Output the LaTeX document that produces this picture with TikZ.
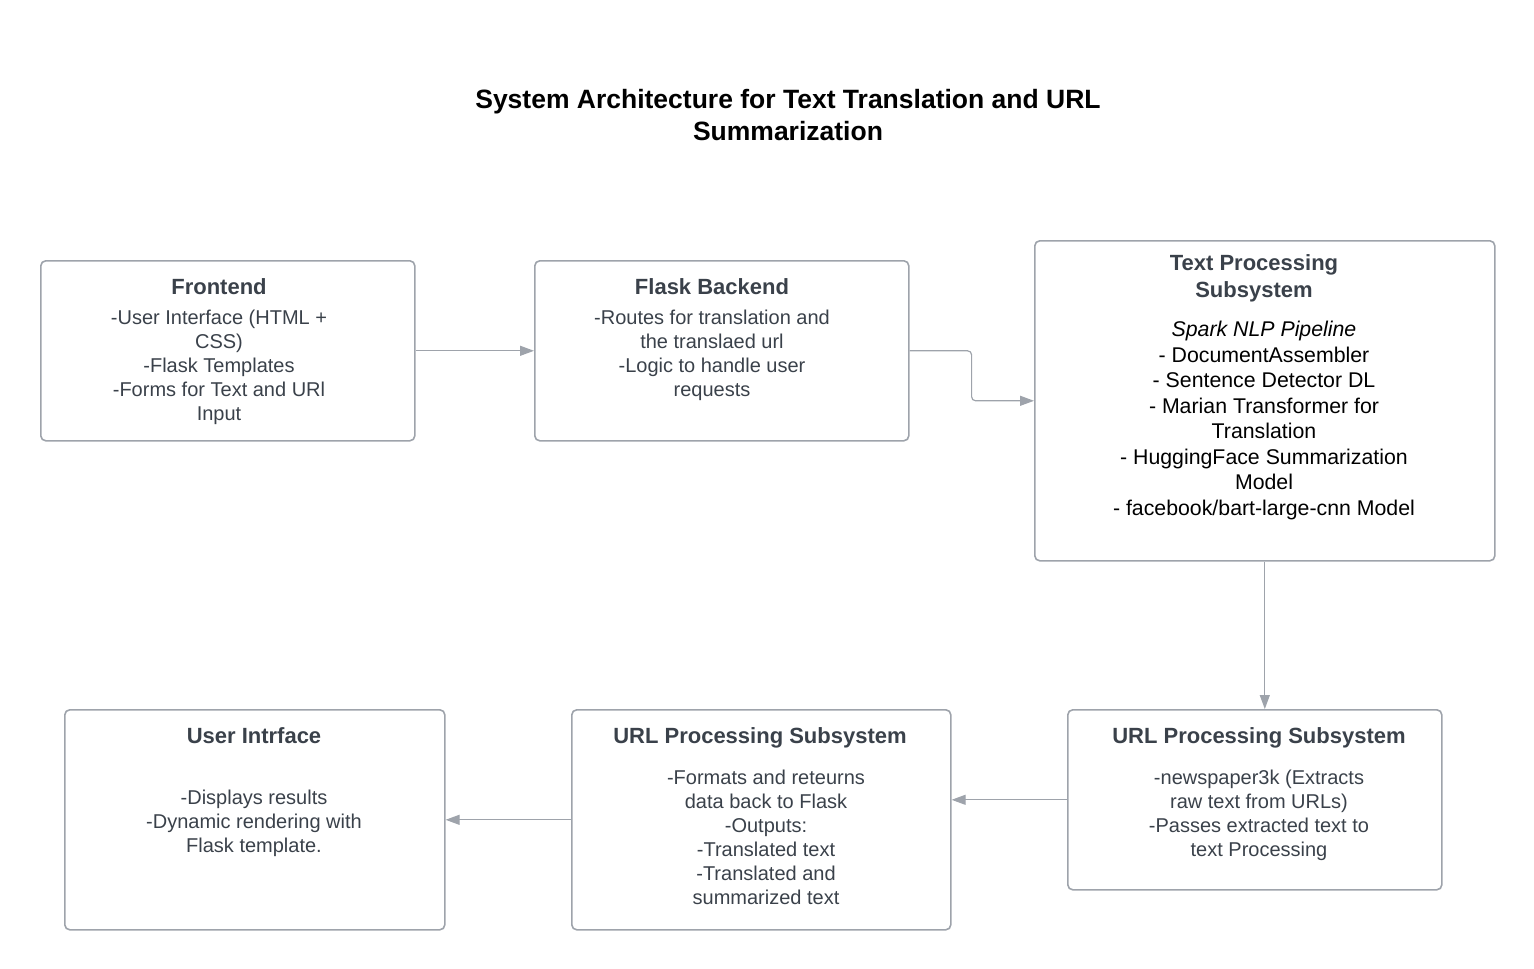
\documentclass[tikz,border=0pt]{standalone}
\usepackage{fontspec}
\setmainfont{Liberation Sans}
\usetikzlibrary{arrows.meta}
\definecolor{linegray}{HTML}{9EA3AB}
\definecolor{labelgray}{HTML}{3A414A}

\begin{document}
\begin{tikzpicture}[x=1pt,y=-1pt,every node/.style={inner sep=0pt},
    block/.style={draw=linegray,line width=1.6pt,rounded corners=5pt,anchor=north west},
    heading/.style={font=\fontsize{22}{27}\selectfont\bfseries,text=labelgray,align=center,anchor=north},
    body/.style={font=\fontsize{20}{24}\selectfont,text=labelgray,align=center,anchor=north},
    flow/.style={draw=linegray,line width=1.2pt,-{Triangle[length=14pt,width=10pt]}}]
    \useasboundingbox (0,0) rectangle (1534,969);
    %title
    \node[font=\fontsize{26.5}{32}\selectfont\bfseries,align=center,anchor=north] (title) at (788,89)
        {System Architecture for Text Translation and URL\\Summarization};
    %boxes
    \node[block,minimum width=374pt,minimum height=180pt] (front) at (40,260) {};
    \node[block,minimum width=374pt,minimum height=180pt] (flask) at (534,260) {};
    \node[block,minimum width=460pt,minimum height=320pt] (textproc) at (1034,240) {};
    \node[block,minimum width=374pt,minimum height=180pt] (urlright) at (1067,709) {};
    \node[block,minimum width=379pt,minimum height=220pt] (urlmid) at (571,709) {};
    \node[block,minimum width=380pt,minimum height=220pt] (user) at (64,709) {};
    %texts
    \node[heading] (front-title) at (219,278) {Frontend};
    \node[body] (front-text) at (219,310) {-User Interface (HTML +\\CSS)\\-Flask Templates\\-Forms for Text and URl\\Input};
    \node[heading] (flask-title) at (712,278) {Flask Backend};
    \node[body] (flask-text) at (712,310) {-Routes for translation and\\the translaed url\\-Logic to handle user\\requests};
    \node[heading] (textproc-title) at (1254,254) {Text Processing\\Subsystem};
    \node[body,text=black,font=\fontsize{21.3}{25.5}\selectfont] (textproc-text) at (1264,321)
        {\textit{Spark NLP Pipeline}\\- DocumentAssembler\\- Sentence Detector DL\\- Marian Transformer for\\Translation\\- HuggingFace Summarization\\Model\\- facebook/bart-large-cnn Model};
    \node[heading] (urlright-title) at (1259,727) {URL Processing Subsystem};
    \node[body] (urlright-text) at (1259,770) {-newspaper3k (Extracts\\raw text from URLs)\\-Passes extracted text to\\text Processing};
    \node[heading] (urlmid-title) at (760,727) {URL Processing Subsystem};
    \node[body] (urlmid-text) at (766,770) {-Formats and reteurns\\data back to Flask\\-Outputs:\\-Translated text\\-Translated and\\summarized text};
    \node[heading] (user-title) at (254,727) {User Intrface};
    \node[body] (user-text) at (254,790) {-Displays results\\-Dynamic rendering with\\Flask template.};
    %connectors
    \draw[flow] (front.east) -- (flask.west);
    \draw[flow,rounded corners=4pt] (flask.east) -- ++(62,0) |- (textproc.west);
    \draw[flow] (textproc.south) -- (textproc.south |- urlright.north);
    \draw[flow] (urlright.west) -- (urlright.west -| urlmid.east);
    \draw[flow] (urlmid.west) -- (user.east);
\end{tikzpicture}
\end{document}
